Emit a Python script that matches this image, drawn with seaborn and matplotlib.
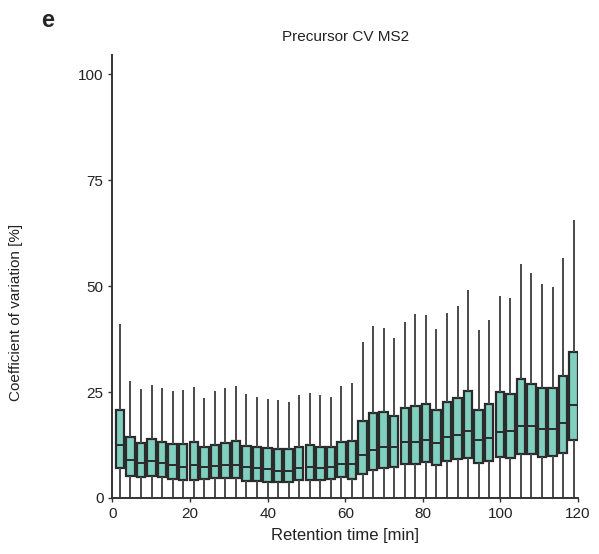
import numpy as np
import pandas as pd
import matplotlib
matplotlib.use("Agg")
import matplotlib.pyplot as plt
import seaborn as sns

# retention time bin centres [min]
rt_bins = [1.9, 4.62, 7.34, 10.06, 12.78, 15.5, 18.22, 20.94, 23.66, 26.38,
           29.1, 31.82, 34.54, 37.26, 39.98, 42.7, 45.42, 48.14, 50.86, 53.58,
           56.3, 59.02, 61.74, 64.46, 67.18, 69.9, 72.62, 75.34, 78.06, 80.78,
           83.5, 86.22, 88.94, 91.66, 94.38, 97.1, 99.82, 102.54, 105.26, 107.98,
           110.7, 113.42, 116.14, 118.86]

# five-number summaries per bin (CV %)
cv_min = [0.0] * 44
cv_q1 = [7.1, 5.3, 4.9, 5.3, 5.0, 4.4, 4.2, 4.2, 4.4, 4.6,
         4.6, 4.6, 4.1, 4.1, 3.8, 3.8, 3.8, 4.2, 4.2, 4.2,
         4.4, 5.0, 4.5, 5.7, 6.6, 7.0, 7.2, 8.0, 8.0, 8.5,
         7.9, 8.7, 9.2, 9.4, 8.3, 8.7, 9.7, 9.4, 10.3, 10.3,
         9.6, 9.9, 10.5, 13.7]
cv_median = [12.4, 9.0, 8.2, 8.7, 8.2, 7.8, 7.4, 7.8, 7.4, 7.5,
             7.7, 7.8, 7.4, 7.0, 6.8, 6.4, 6.4, 7.1, 7.4, 7.1,
             7.2, 8.0, 8.0, 10.1, 11.3, 12.0, 12.0, 13.1, 13.1, 13.7,
             13.0, 14.3, 14.9, 15.8, 13.7, 14.1, 15.6, 15.8, 17.1, 17.0,
             16.2, 16.2, 17.8, 21.9]
cv_q3 = [20.75, 14.3, 13.0, 13.8, 13.2, 12.7, 12.7, 13.1, 12.0, 12.5,
         12.9, 13.4, 12.3, 12.0, 11.7, 11.5, 11.5, 12.1, 12.4, 12.1,
         12.1, 13.3, 13.4, 18.2, 20.1, 20.2, 19.4, 21.3, 21.8, 22.2,
         20.8, 22.6, 23.7, 25.3, 20.8, 22.1, 25.0, 24.5, 28.1, 27.0,
         25.9, 25.9, 28.8, 34.5]
cv_max = [41.0, 27.7, 25.6, 26.7, 26.0, 25.2, 25.5, 26.3, 23.7, 25.3,
          25.9, 26.4, 24.5, 23.8, 23.3, 23.0, 22.7, 24.2, 24.8, 24.4,
          23.9, 26.5, 27.1, 36.9, 40.6, 40.0, 37.8, 41.6, 43.3, 43.1,
          39.9, 43.6, 45.2, 49.0, 39.7, 42.0, 47.6, 47.2, 55.2, 53.0,
          50.5, 49.8, 56.6, 65.5]

# long table: 5 points per bin reproduce the summary exactly
rows = []
for i, rt in enumerate(rt_bins):
    for v in (cv_min[i], cv_q1[i], cv_median[i], cv_q3[i], cv_max[i]):
        rows.append({"rt": rt, "cv": v})
df = pd.DataFrame(rows)

sns.set_style("ticks")
plt.rcParams["font.family"] = ["Liberation Sans", "DejaVu Sans"]

fig = plt.figure(figsize=(5.99, 5.54), dpi=100)
ax = fig.add_axes([0.1878, 0.1011, 0.7772, 0.7996])

edge = "#2b2b2b"
sns.boxplot(data=df, x="rt", y="cv", native_scale=True, whis=(0, 100),
            width=0.8, color="#7ecfbf", linecolor=edge, linewidth=1.5,
            showcaps=False, ax=ax,
            boxprops=dict(facecolor="#80d0c0", edgecolor=edge, linewidth=1.6),
            whiskerprops=dict(color="#4a4a4a", linewidth=1.4),
            medianprops=dict(color=edge, linewidth=1.4))

ax.set_xlim(0, 120)
ax.set_ylim(0, 104.5)
ax.set_xticks([0, 20, 40, 60, 80, 100, 120])
ax.set_yticks([0, 25, 50, 75, 100])
ax.tick_params(labelsize=11, length=3, width=1, color="#333333", labelcolor="#222222")
for s in ["top", "right"]:
    ax.spines[s].set_visible(False)
for s in ["left", "bottom"]:
    ax.spines[s].set_linewidth(1.4)
    ax.spines[s].set_color("#333333")

ax.set_xlabel("Retention time [min]", fontsize=12, color="#222222", labelpad=5)
ax.set_ylabel("Coefficient of variation [%]", fontsize=11, color="#222222")
ax.yaxis.set_label_coords(-0.192, 0.42)
ax.set_title("Precursor CV MS2", fontsize=11, color="#222222", pad=10)
fig.text(0.068, 0.963, "e", fontsize=17, fontweight="bold", va="center", ha="left")

fig.savefig("out.png", dpi=100)
